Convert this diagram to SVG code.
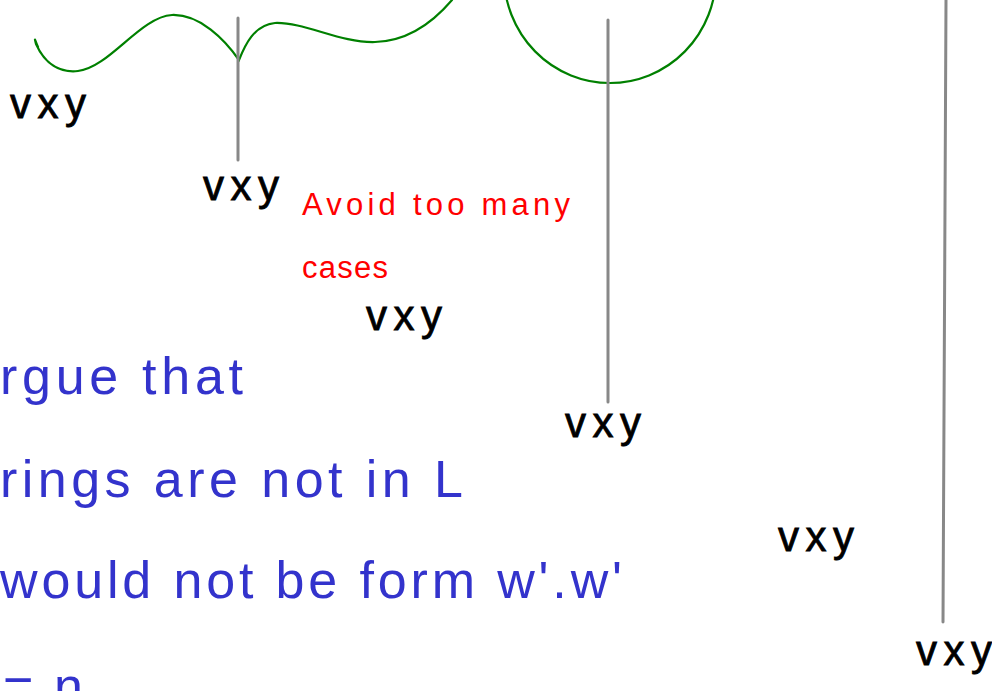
<svg xmlns="http://www.w3.org/2000/svg" width="992" height="691" viewBox="0 0 992 691">
<style>
.g{stroke:#888;stroke-width:3;stroke-linecap:round;fill:none}
.gr{stroke:#008000;stroke-width:2.2;fill:none;stroke-linecap:round}
.k{font-family:"Liberation Sans",Arial,sans-serif;font-size:42px;fill:#000;stroke:#000;stroke-width:0.8}
.r{font-family:"Liberation Sans",Arial,sans-serif;font-size:31px;fill:#f00}
.b{font-family:"Liberation Sans",Arial,sans-serif;font-size:52px;fill:#3333cc}
</style>
<rect width="992" height="691" fill="#fff"/>
<path class="gr" d="M38,47 C35,40 34,36 36,44 C45,64 60,73 78,71 C110,67 140,17 172,15 C200,14 225,40 239,60 C245,45 254,25 275,23 C305,22 340,43 375,42 C410,41 435,20 452,0"/>
<ellipse class="gr" cx="610" cy="-25" rx="106" ry="108"/>
<g id="lines">
<line class="g" x1="238" y1="18" x2="238" y2="160"/>
<line class="g" x1="608" y1="20" x2="608" y2="402"/>
<line class="g" x1="946" y1="0" x2="943" y2="622"/>
</g>
<g id="labels">
<text class="k" x="10" y="118" textLength="76" lengthAdjust="spacing">vxy</text>
<text class="k" x="203" y="200" textLength="76" lengthAdjust="spacing">vxy</text>
<text class="k" x="366" y="330" textLength="76" lengthAdjust="spacing">vxy</text>
<text class="k" x="565" y="437" textLength="76" lengthAdjust="spacing">vxy</text>
<text class="k" x="778" y="551" textLength="76" lengthAdjust="spacing">vxy</text>
<text class="k" x="916" y="665" textLength="76" lengthAdjust="spacing">vxy</text>
</g>
<g id="note">
<text class="r" x="302" y="215" textLength="268" lengthAdjust="spacing">Avoid too many</text>
<text class="r" x="302" y="278" textLength="86" lengthAdjust="spacing">cases</text>
</g>
<g id="text">
<text class="b" x="0" y="394" textLength="243" lengthAdjust="spacing">rgue that</text>
<text class="b" x="0" y="497" textLength="463" lengthAdjust="spacing">rings are not in L</text>
<text class="b" x="0" y="598" textLength="622" lengthAdjust="spacing">would not be form w'.w'</text>
<text class="b" x="3" y="704" textLength="80" lengthAdjust="spacing">= n</text>
</g>
</svg>
